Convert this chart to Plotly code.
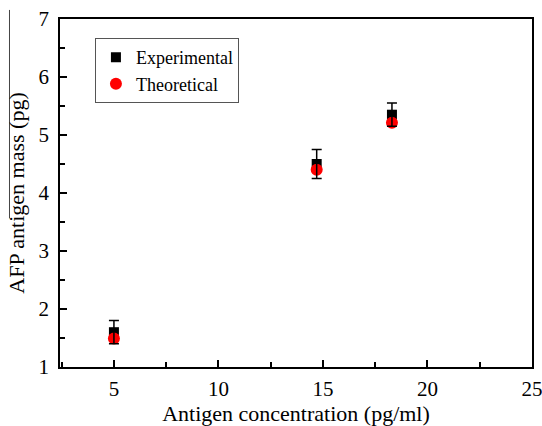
import plotly.graph_objects as go

conc = [5, 14.7, 18.3]
experimental = [1.6, 4.5, 5.35]
exp_err = [0.2, 0.25, 0.2]
theoretical = [1.49, 4.4, 5.21]

FONT = "Liberation Serif, Times New Roman, serif"

fig = go.Figure()
fig.add_trace(go.Scatter(
    x=conc, y=experimental, mode="markers", name="Experimental",
    marker=dict(symbol="square", size=10, color="black"),
))
fig.add_trace(go.Scatter(
    x=conc, y=theoretical, mode="markers", name="Theoretical",
    marker=dict(symbol="circle", size=12, color="red"),
))
fig.add_trace(go.Scatter(
    x=conc, y=experimental, mode="markers", showlegend=False,
    marker=dict(size=0.1, color="rgba(0,0,0,0)"),
    error_y=dict(type="data", array=exp_err, visible=True, color="black",
                 thickness=1.5, width=5),
    hoverinfo="skip",
))

axis_common = dict(
    showline=True, linecolor="black", linewidth=1.5, mirror=True,
    ticks="inside", ticklen=7, tickwidth=1.5, tickcolor="black",
    showgrid=False, zeroline=False, automargin=False,
    ticklabeloverflow="allow",
    tickfont=dict(family=FONT, size=21, color="black"),
)

fig.update_xaxes(
    range=[2.42, 25], tickvals=[5, 10, 15, 20, 25],
    minor=dict(ticks="inside", ticklen=5, tickwidth=1.5, tickcolor="black", dtick=2.5, tick0=0),
    ticklabelstandoff=2,
    title=dict(text="Antigen concentration (pg/ml)", font=dict(family=FONT, size=22, color="black"), standoff=9),
    **axis_common,
)
fig.update_yaxes(
    range=[1, 7], tickvals=[1, 2, 3, 4, 5, 6, 7],
    minor=dict(ticks="inside", ticklen=5, tickwidth=1.5, tickcolor="black", dtick=0.5, tick0=0),
    ticklabelstandoff=5,
    title=dict(text="AFP antigen mass (pg)", font=dict(family=FONT, size=22, color="black"), standoff=8),
    **axis_common,
)

fig.update_layout(
    width=542, height=426,
    margin=dict(l=60, r=10, t=19, b=59),
    paper_bgcolor="white", plot_bgcolor="white",
    font=dict(family=FONT, color="black"),
    legend=dict(
        x=0.074, y=0.945, xanchor="left", yanchor="top",
        bordercolor="#555", borderwidth=1, bgcolor="white",
        font=dict(family=FONT, size=18, color="black"),
        itemsizing="trace", tracegroupgap=0,
    ),
    showlegend=True,
    shapes=[dict(type="line", xref="paper", yref="paper", x0=-0.107, x1=-0.107,
                 y0=1.026, y1=0.427, line=dict(color="#444", width=1))],
)

fig.write_html("out.html")
